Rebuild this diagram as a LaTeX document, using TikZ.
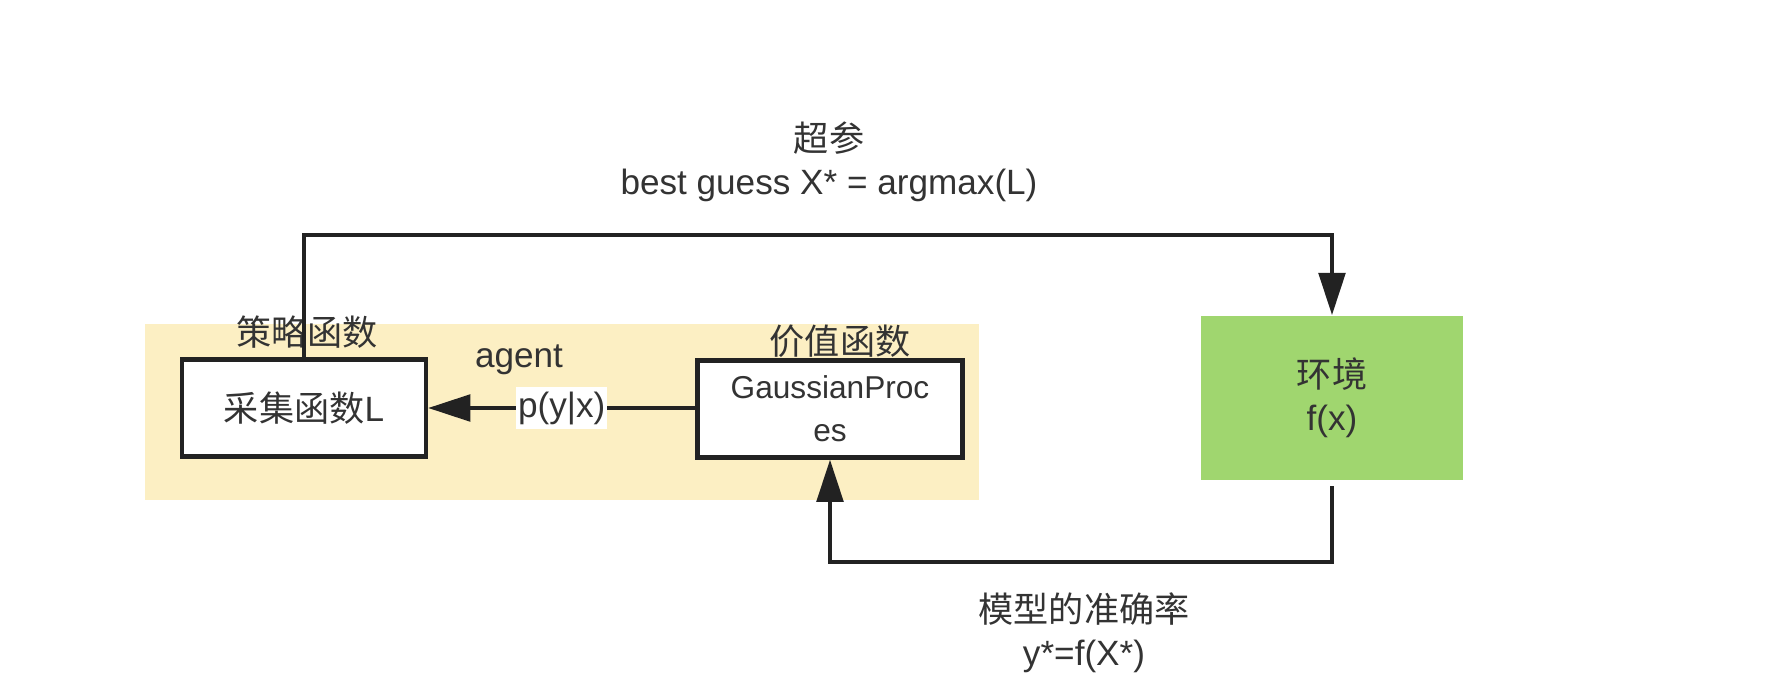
\documentclass[tikz,border=0pt]{standalone}
\usepackage{fontspec}
\setmainfont{Liberation Sans}
\newfontfamily\cjk{Noto Sans CJK SC}
\usetikzlibrary{arrows.meta,positioning,calc}
\definecolor{PaleYellow}{HTML}{FCEFC3}
\definecolor{LeafGreen}{HTML}{A0D66F}
\definecolor{InkGrey}{HTML}{222222}
\definecolor{TextGrey}{HTML}{333333}
\tikzset{
    block/.style = {draw=InkGrey, line width=2.4pt, rectangle, fill=white,
        minimum height=1.94cm, align=center},
    envbox/.style = {rectangle, fill=LeafGreen, minimum width=5.26cm,
        minimum height=3.3cm, align=center},
    agentbg/.style = {rectangle, fill=PaleYellow, minimum width=16.68cm,
        minimum height=3.52cm},
    tag/.style = {align=center, inner sep=1pt},
    arrow/.style = {draw=InkGrey, line width=2.4pt, -{Triangle[length=24pt,width=15pt]}}
}
\begin{document}
\begin{tikzpicture}[x=0.02cm, y=-0.02cm, font=\fontsize{20}{24.5}\selectfont, text=TextGrey]
        \useasboundingbox (0,0) rectangle (1780,682);
        % agent area
        \node [agentbg] (agent) at (562,412) {};
        \node [block, minimum width=4.88cm] (acq) at (304,408) {{\cjk 采集函数}L};
        \node [block, minimum width=5.3cm, font=\fontsize{18}{24.5}\selectfont] (gp) at (830,409) {GaussianProc\\es};
        \node [tag] (policy) at (307,332) {\cjk 策略函数};
        \node [tag] (agentname) at (519,360) {agent};
        \node [tag] (value) at (840,341) {\cjk 价值函数};
        % environment
        \node [envbox] (env) at (1332,398) {{\cjk 环境}\\f(x)};
        % loop
        \coordinate (hyper) at (829,235);
        \coordinate (acc) at (1084,562);
        \draw [arrow] (gp.west |- acq.east) -- node [tag, fill=white, inner ysep=2.5pt] (post) {p(y|x)} (acq.east);
        \draw [arrow] (acq.north) |- (hyper) -| (env.north);
        \draw [arrow, shorten <=3pt] (env.south) |- (acc) -| (gp.south);
        \node [tag] (guess) at (829,162) {{\cjk 超参}\\best guess X* = argmax(L)};
        \node [tag] (accuracy) at (1084,633) {{\cjk 模型的准确率}\\y*=f(X*)};
\end{tikzpicture}
\end{document}
